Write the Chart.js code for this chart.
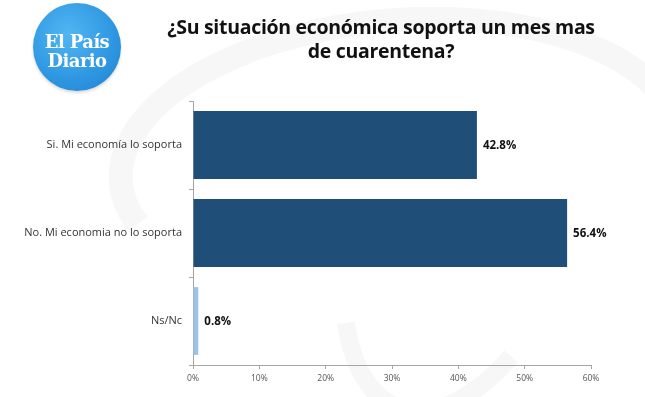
<!DOCTYPE html>
<html>
<head>
<meta charset="utf-8">
<script src="https://cdn.jsdelivr.net/npm/chart.js@4"></script>
<style>
  html, body { margin: 0; padding: 0; background: #fff; }
  #wrap { position: relative; width: 645px; height: 397px; overflow: hidden; }
  #logo {
    position: absolute; left: 33px; top: 3px; width: 88px; height: 88px; border-radius: 50%;
    background: radial-gradient(circle at 40% 35%, #52b6f2 0%, #3099e3 55%, #1f7fcf 100%);
    box-shadow: 0 2px 3px rgba(0,0,0,0.15);
    color: #fff; font-family: "DejaVu Serif", serif; font-weight: bold; text-align: center;
    font-size: 18px; line-height: 19px; padding-top: 29px; box-sizing: border-box;
    letter-spacing: -0.6px;
  }
  #title {
    position: absolute; left: 136px; top: 15px; width: 490px; text-align: center;
    font-family: "Open Sans", sans-serif; font-weight: bold; font-size: 19.5px; line-height: 24px; color: #111;
    letter-spacing: -0.3px;
  }
  canvas { position: absolute; left: 0; top: 0; }
</style>
</head>
<body>
<div id="wrap">
  <canvas id="chart" width="645" height="397"></canvas>
  <div id="logo">El País<br>Diario</div>
  <div id="title">¿Su situación económica soporta un mes mas<br>de cuarentena?</div>
</div>
<script>
// Datos de la encuesta
const categorias = ['Si. Mi economía lo soporta', 'No. Mi economia no lo soporta', 'Ns/Nc'];
const porcentajes = [42.8, 56.4, 0.8];
const colores = ['#1f4e79', '#1f4e79', '#9dc3e6'];
const ticksX = [0, 10, 20, 30, 40, 50, 60];

// Marca de agua (arcos grises suaves de fondo)
const fondoPlugin = {
  id: 'fondo',
  beforeDraw(chart) {
    const ctx = chart.ctx;
    ctx.save();
    ctx.strokeStyle = 'rgba(0,0,0,0.03)';
    ctx.lineWidth = 24;
    ctx.beginPath();
    ctx.ellipse(400, 160, 280, 140, -0.08, Math.PI * 0.9, Math.PI * 1.9);
    ctx.stroke();
    ctx.lineWidth = 18;
    ctx.beginPath();
    ctx.ellipse(470, 210, 110, 210, 0.35, Math.PI * 0.2, Math.PI * 0.75);
    ctx.stroke();
    ctx.restore();
  }
};

// Etiquetas de valores al final de cada barra
const etiquetasPlugin = {
  id: 'etiquetas',
  afterDatasetsDraw(chart) {
    const ctx = chart.ctx;
    const meta = chart.getDatasetMeta(0);
    ctx.save();
    ctx.font = 'bold 11.5px "Open Sans", sans-serif';
    ctx.fillStyle = '#111';
    ctx.textBaseline = 'middle';
    meta.data.forEach((bar, i) => {
      ctx.fillText(porcentajes[i].toFixed(1) + '%', bar.x + 6, bar.y + 1);
    });
    ctx.restore();
  }
};

new Chart(document.getElementById('chart').getContext('2d'), {
  type: 'bar',
  data: {
    labels: categorias,
    datasets: [{
      data: porcentajes,
      backgroundColor: colores,
      categoryPercentage: 0.77,
      barPercentage: 1
    }]
  },
  options: {
    indexAxis: 'y',
    responsive: false,
    animation: false,
    layout: { padding: { top: 101, right: 54, left: 0, bottom: 0 } },
    plugins: { legend: { display: false }, tooltip: { enabled: false } },
    scales: {
      x: {
        min: 0,
        max: 60,
        afterBuildTicks(scale) { scale.ticks = ticksX.map(v => ({ value: v })); },
        afterFit(scale) { scale.height = 32; },
        border: { color: '#a6a6a6' },
        grid: { drawOnChartArea: false, tickLength: 4, color: '#a6a6a6' },
        ticks: {
          callback: v => v + '%',
          color: '#555',
          font: { family: '"Open Sans", sans-serif', size: 8.5 },
          padding: 4,
          maxRotation: 0
        }
      },
      y: {
        afterFit(scale) { scale.width = 193; },
        border: { color: '#a6a6a6' },
        grid: { drawOnChartArea: false, tickLength: 4, color: '#a6a6a6', offset: true },
        ticks: {
          color: '#333',
          font: { family: '"Open Sans", sans-serif', size: 11 },
          padding: 7
        }
      }
    }
  },
  plugins: [fondoPlugin, etiquetasPlugin]
});
</script>
</body>
</html>
